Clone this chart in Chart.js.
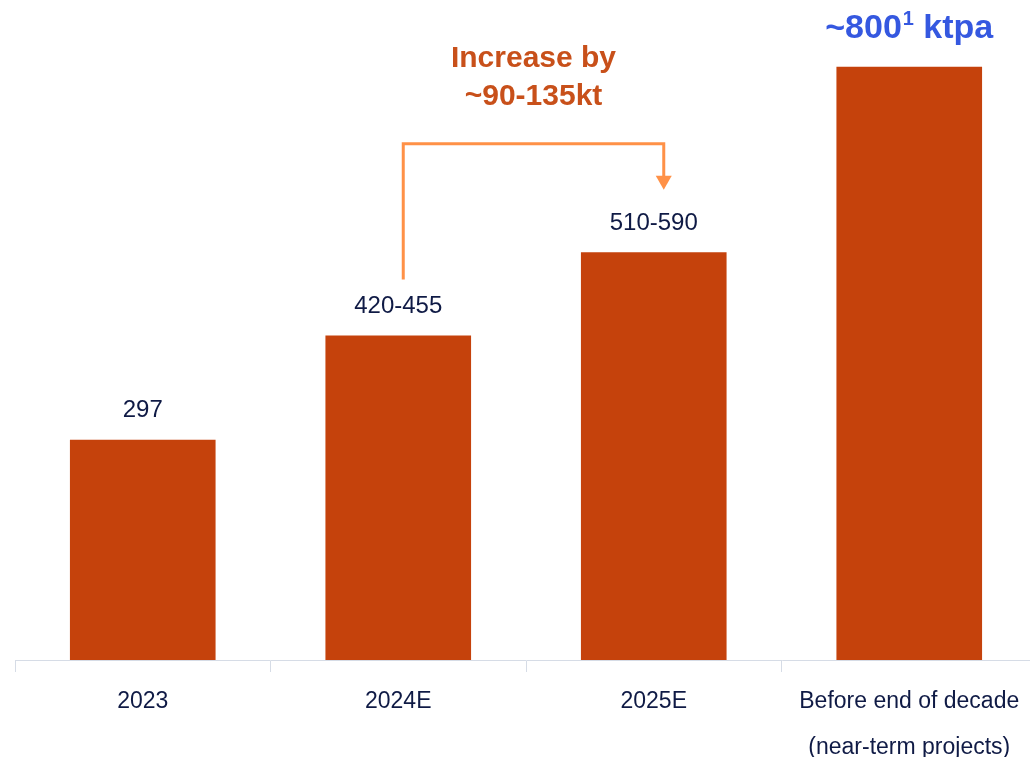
<!DOCTYPE html>
<html>
<head>
<meta charset="utf-8">
<script src="https://cdn.jsdelivr.net/npm/chart.js@4.4.1/dist/chart.umd.min.js"></script>
<style>
  body { margin: 0; overflow: hidden; background: #fff; }
  #wrap { width: 1037px; height: 757px; }
</style>
</head>
<body>
<div id="wrap"><canvas id="bars" width="1037" height="757"></canvas></div>
<script>
const categories = ["2023", "2024E", "2025E", ["Before end of decade", "(near-term projects)"]];
const values = [297, 437.5, 550, 800];
const valueLabels = ["297", "420-455", "510-590", ""];
const headline = { main: "~800", sup: "1", rest: " ktpa" };
const increaseText = ["Increase by", "~90-135kt"];

const barColor = "#C5420C";
const navy = "#0F1A45";
const font = "'Liberation Sans', Arial, sans-serif";

const labelPlugin = {
  id: "labels",
  afterDatasetsDraw(chart) {
    const ctx = chart.ctx;
    const meta = chart.getDatasetMeta(0);
    const y = chart.scales.y;
    ctx.save();
    ctx.textAlign = "center";
    ctx.textBaseline = "middle";
    ctx.fillStyle = navy;
    ctx.font = "24px " + font;
    meta.data.forEach((bar, i) => {
      if (valueLabels[i]) ctx.fillText(valueLabels[i], bar.x, bar.y - 29);
    });

    // headline above last bar
    const last = meta.data[meta.data.length - 1];
    ctx.fillStyle = "#3558E0";
    const big = "bold 34px " + font;
    const small = "bold 20px " + font;
    ctx.font = big;
    const w1 = ctx.measureText(headline.main).width;
    const w3 = ctx.measureText(headline.rest).width;
    ctx.font = small;
    const w2 = ctx.measureText(headline.sup).width + 1;
    let x = last.x - (w1 + w2 + w3) / 2;
    const hy = last.y - 38;
    ctx.textAlign = "left";
    ctx.font = big;
    ctx.fillText(headline.main, x, hy);
    ctx.font = small;
    ctx.fillText(headline.sup, x + w1 + 1, hy - 9);
    ctx.font = big;
    ctx.fillText(headline.rest, x + w1 + w2, hy);

    // increase arrow between 2024E and 2025E
    const x1 = meta.data[1].x + 5;
    const x2 = meta.data[2].x + 10;
    const yStart = y.getPixelForValue(513);
    const yTop = y.getPixelForValue(696);
    const yTip = y.getPixelForValue(634);
    ctx.strokeStyle = "#FF9147";
    ctx.fillStyle = "#FF9147";
    ctx.lineWidth = 3;
    ctx.beginPath();
    ctx.moveTo(x1, yStart);
    ctx.lineTo(x1, yTop);
    ctx.lineTo(x2, yTop);
    ctx.lineTo(x2, yTip - 12);
    ctx.stroke();
    ctx.beginPath();
    ctx.moveTo(x2 - 8, yTip - 14);
    ctx.lineTo(x2 + 8, yTip - 14);
    ctx.lineTo(x2, yTip);
    ctx.closePath();
    ctx.fill();

    ctx.textAlign = "center";
    ctx.fillStyle = "#C8501A";
    ctx.font = "bold 30px " + font;
    const cx = (x1 + x2) / 2;
    ctx.fillText(increaseText[0], cx, 59);
    ctx.fillText(increaseText[1], cx, 97);
    ctx.restore();
  }
};

new Chart(document.getElementById("bars"), {
  type: "bar",
  data: {
    labels: categories,
    datasets: [{
      data: values,
      backgroundColor: barColor,
      barPercentage: 0.57,
      categoryPercentage: 1
    }]
  },
  options: {
    responsive: false,
    animation: false,
    layout: { padding: { left: 15, right: 0, top: 0, bottom: 0 } },
    plugins: { legend: { display: false }, tooltip: { enabled: false } },
    scales: {
      x: {
        grid: { display: true, drawOnChartArea: false, tickLength: 12, color: "#D6DCE6", lineWidth: 1 },
        border: { display: true, color: "#D6DCE6", width: 1 },
        ticks: { color: navy, padding: 7, font: { family: font, size: 23, lineHeight: 2 }, maxRotation: 0 },
        afterFit(scale) { scale.height = 97; }
      },
      y: {
        display: false,
        min: 0,
        max: 890
      }
    }
  },
  plugins: [labelPlugin]
});
</script>
</body>
</html>
